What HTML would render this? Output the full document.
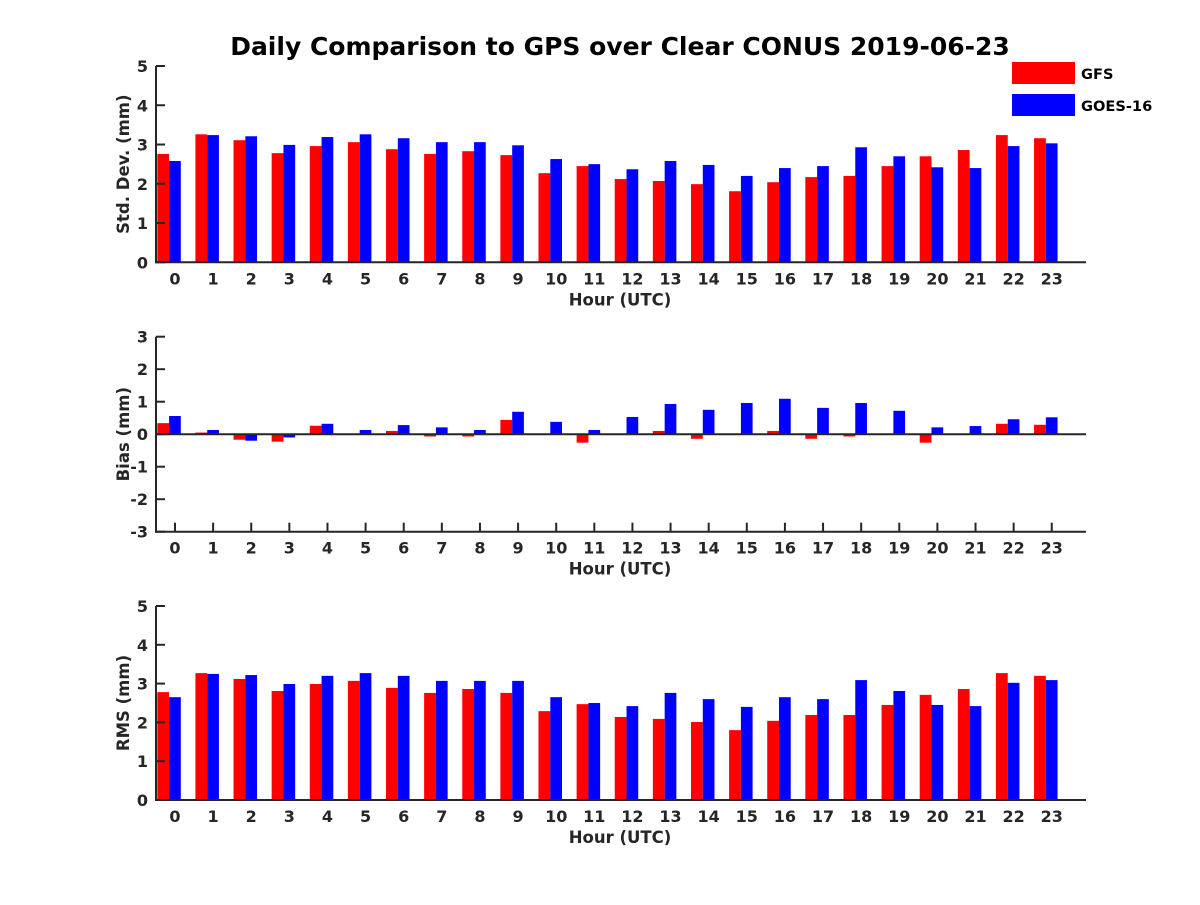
<!DOCTYPE html>
<html><head><meta charset="utf-8"><style>
body{margin:0;background:#fff;}
svg text{font-family:"DejaVu Sans","Liberation Sans",sans-serif;font-weight:bold;fill:#262626;}
</style></head><body>
<svg id="c" width="1200" height="900" xmlns="http://www.w3.org/2000/svg">
<text x="620" y="55" text-anchor="middle" font-size="25" style="fill:#000">Daily Comparison to GPS over Clear CONUS 2019-06-23</text>
<rect x="1012" y="62" width="63" height="22" fill="#ff0000"/>
<text x="1081" y="79" font-size="14.6" style="fill:#000">GFS</text>
<rect x="1012" y="94" width="63" height="22" fill="#0000ff"/>
<text x="1081" y="111" font-size="14.6" style="fill:#000">GOES-16</text>
</svg>
<script>
const hours = [0,1,2,3,4,5,6,7,8,9,10,11,12,13,14,15,16,17,18,19,20,21,22,23];
const stdGFS = [2.76,3.26,3.11,2.78,2.96,3.06,2.88,2.76,2.83,2.73,2.27,2.45,2.12,2.07,1.99,1.81,2.04,2.17,2.20,2.45,2.70,2.86,3.24,3.16];
const stdGOES = [2.58,3.24,3.21,2.99,3.19,3.26,3.16,3.06,3.06,2.98,2.63,2.50,2.37,2.58,2.48,2.20,2.40,2.45,2.93,2.70,2.42,2.40,2.96,3.03];
const biasGFS = [0.34,0.05,-0.17,-0.23,0.26,0,0.1,-0.07,-0.07,0.44,0,-0.26,-0.02,0.1,-0.14,0,0.1,-0.14,-0.07,0,-0.26,0.02,0.32,0.29];
const biasGOES = [0.56,0.13,-0.2,-0.1,0.32,0.13,0.28,0.21,0.13,0.69,0.38,0.13,0.53,0.93,0.75,0.96,1.09,0.81,0.96,0.72,0.21,0.25,0.46,0.52];
const rmsGFS = [2.78,3.27,3.12,2.81,2.99,3.07,2.89,2.76,2.86,2.76,2.29,2.47,2.14,2.09,2.01,1.80,2.04,2.19,2.19,2.45,2.71,2.86,3.27,3.20];
const rmsGOES = [2.65,3.25,3.22,2.99,3.20,3.27,3.20,3.07,3.07,3.07,2.65,2.50,2.42,2.76,2.60,2.40,2.65,2.60,3.09,2.81,2.45,2.42,3.02,3.09];
const stdTicks = [0,1,2,3,4,5];
const biasTicks = [-3,-2,-1,0,1,2,3];
const rmsTicks = [0,1,2,3,4,5];

const svg = document.getElementById('c');
const NS = 'http://www.w3.org/2000/svg';
function mk(tag, attrs){const e=document.createElementNS(NS,tag);for(const k in attrs)e.setAttribute(k,attrs[k]);svg.appendChild(e);return e;}
const X0=156, X1=1086;
function xs(h){return 175 + h*38.12;}

function panel(id, yTop, yBot, vmin, vmax, ticks, gfs, goes, ylabel, zeroLine){
  const ys = v => yBot - (v - vmin)/(vmax - vmin)*(yBot - yTop);
  const y0 = ys(Math.max(vmin,0));
  hours.forEach((h,i)=>{
    const t = mk('line',{x1:xs(h),x2:xs(h),y1:yBot,y2:yBot-9,stroke:'#262626','stroke-width':2});
    
    
    const lb = mk('text',{x:xs(h),y:yBot+22,'text-anchor':'middle','font-size':16});
    lb.textContent = h;
    
    
    const a = gfs[i], b = goes[i];
    const r = mk('rect',{x:xs(h)-17.7,width:11.8,y:Math.min(ys(a),y0),height:Math.abs(ys(a)-y0),fill:'#ff0000'});
    
    
    const bb = mk('rect',{x:xs(h)-5.9,width:11.7,y:Math.min(ys(b),y0),height:Math.abs(ys(b)-y0),fill:'#0000ff'});
    
    
  });
  ticks.forEach(v=>{
    const t = mk('line',{x1:X0,x2:X0+9,y1:ys(v),y2:ys(v),stroke:'#262626','stroke-width':2});
    
    
    const lb = mk('text',{x:X0-8,y:ys(v)+6,'text-anchor':'end','font-size':16});
    lb.textContent = v;
    
    
  });
  const ax = mk('line',{x1:X0,x2:X0,y1:yTop,y2:yBot+1,stroke:'#262626','stroke-width':2});
  
  
  const bx = mk('line',{x1:X0-1,x2:X1,y1:yBot,y2:yBot,stroke:'#262626','stroke-width':2});
  
  
  if(zeroLine){
    const z = mk('line',{x1:X0,x2:X1,y1:ys(0),y2:ys(0),stroke:'#262626','stroke-width':2});
    
    
  }
  const xl = mk('text',{x:620,y:yBot+43,'text-anchor':'middle','font-size':16.5});
  xl.textContent='Hour (UTC)';
  
  
  const cy=(yTop+yBot)/2;
  const yl = mk('text',{x:0,y:0,'text-anchor':'middle','font-size':16.5,transform:`translate(129,${cy}) rotate(-90)`});
  yl.textContent=ylabel;
  
  
}
panel('std',66,262.3,0,5,stdTicks,stdGFS,stdGOES,'Std. Dev. (mm)',false);
panel('bias',336.7,531.7,-3,3,biasTicks,biasGFS,biasGOES,'Bias (mm)',true);
panel('rms',606,800,0,5,rmsTicks,rmsGFS,rmsGOES,'RMS (mm)',false);
</script>
</body></html>
